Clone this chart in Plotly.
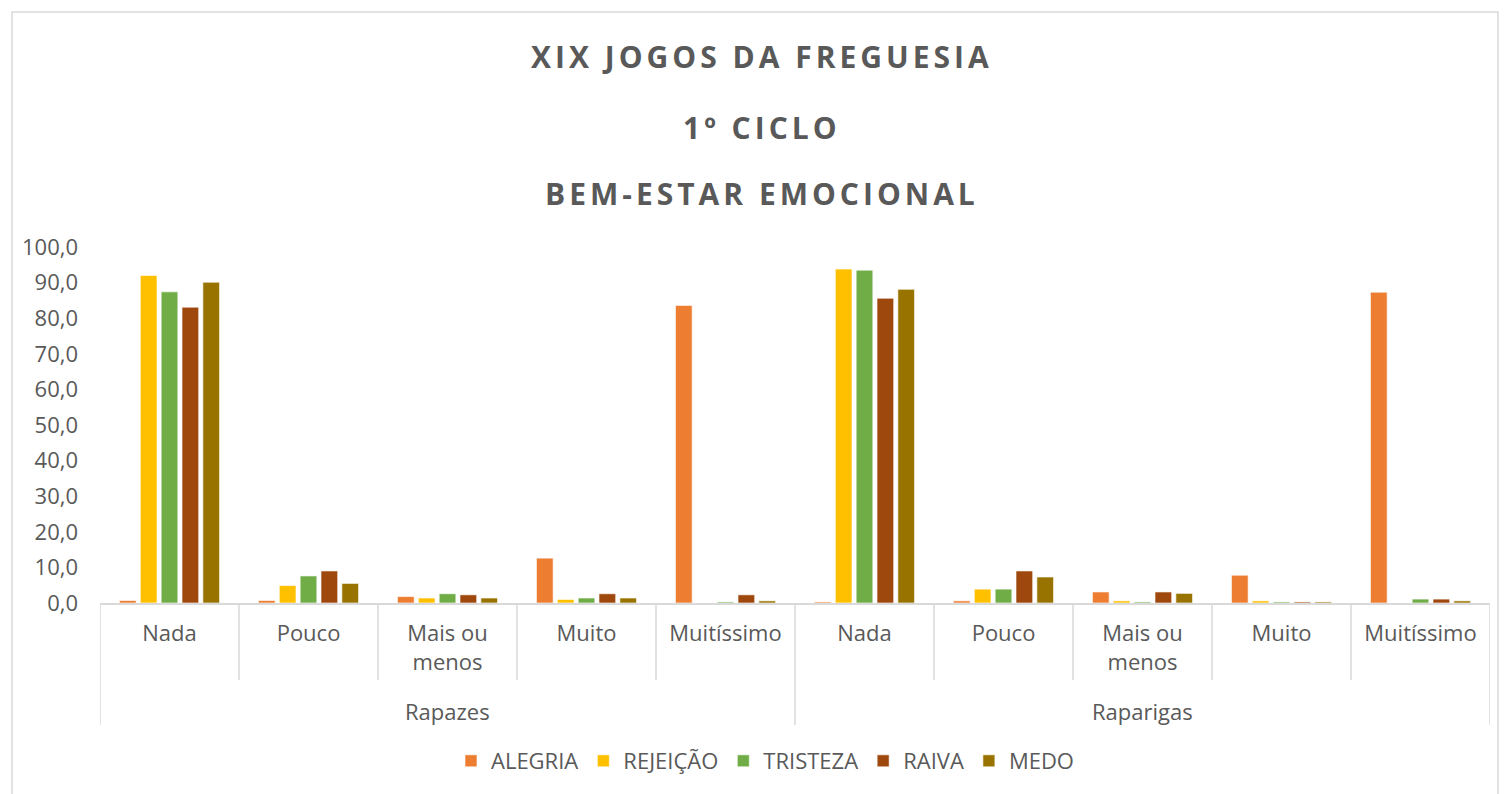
import plotly.graph_objects as go

groups = ["Rapazes", "Raparigas"]
categories = ["Nada", "Pouco", "Mais ou<br>menos", "Muito", "Muitíssimo"]
series_names = ["ALEGRIA", "REJEIÇÃO", "TRISTEZA", "RAIVA", "MEDO"]
colors = ["#ED7D31", "#FFC000", "#70AD47", "#9E480E", "#997300"]

alegria = [0.7, 0.7, 1.8, 12.6, 83.6, 0.3, 0.6, 3.1, 7.8, 87.3]
rejeicao = [92.0, 4.9, 1.4, 1.0, 0.0, 93.8, 3.9, 0.6, 0.6, 0.0]
tristeza = [87.4, 7.6, 2.6, 1.4, 0.3, 93.5, 3.9, 0.3, 0.3, 1.1]
raiva = [83.1, 9.0, 2.3, 2.6, 2.3, 85.6, 9.0, 3.1, 0.3, 1.1]
medo = [90.1, 5.5, 1.4, 1.4, 0.6, 88.1, 7.3, 2.7, 0.3, 0.6]

y_ticks = [0, 10, 20, 30, 40, 50, 60, 70, 80, 90, 100]
y_ticktext = ["0,0", "10,0", "20,0", "30,0", "40,0", "50,0", "60,0", "70,0", "80,0", "90,0", "100,0"]

title_lines = ["XIX JOGOS DA FREGUESIA", "1º CICLO", "BEM-ESTAR EMOCIONAL"]

# category positions built from the two-level categories
inner = [c for _ in groups for c in categories]
idx = list(range(len(inner)))
n_cat = len(categories)

FONT = "Open Sans"
GREY = "#595959"
LINE = "#D9D9D9"

fig = go.Figure()
for name, vals, col in zip(series_names, [alegria, rejeicao, tristeza, raiva, medo], colors):
    fig.add_trace(go.Bar(
        x=idx, y=vals, name=name,
        marker=dict(color=col, line=dict(color="rgba(255,255,255,0.6)", width=1)),
    ))

W, H = 1511, 794
PL, PR, PT, PB = 100, 1490, 247, 603  # plot area in page pixels
L, T, R, B = PL, PT, W - PR, H - PB
ph = PB - PT
pw = PR - PL

def py(pix):
    return (PB - pix) / ph

def px(pix):
    return (pix - PL) / pw

annotations = []
for txt, yp in zip(title_lines, [57, 127, 193]):
    annotations.append(dict(
        text="<b>" + txt + "</b>", xref="paper", yref="paper",
        x=px(762), y=py(yp), xanchor="center", yanchor="middle",
        showarrow=False, font=dict(family=FONT, size=30, color=GREY),
    ))
for gi, g in enumerate(groups):
    annotations.append(dict(
        text=g, xref="x", yref="paper",
        x=gi * n_cat + (n_cat - 1) / 2, y=py(711), xanchor="center", yanchor="middle",
        showarrow=False, font=dict(family=FONT, size=22, color=GREY),
    ))

shapes = [dict(type="rect", xref="paper", yref="paper",
               x0=px(12), x1=px(1498), y0=py(830), y1=py(12),
               line=dict(color=LINE, width=1.5), layer="below")]
for i in range(len(inner) + 1):
    is_group_edge = (i % n_cat == 0)
    shapes.append(dict(type="line", xref="x", yref="paper",
                       x0=i - 0.5, x1=i - 0.5, y0=0, y1=py(725 if is_group_edge else 680),
                       line=dict(color=LINE, width=1.5)))

fig.update_layout(
    width=W, height=H,
    margin=dict(l=L, r=R, t=T, b=B),
    paper_bgcolor="white", plot_bgcolor="white",
    barmode="group", bargap=0.25, bargroupgap=0.2,
    font=dict(family=FONT, size=22, color=GREY),
    showlegend=True,
    legend=dict(orientation="h", x=px(765), xanchor="center",
                y=py(761), yanchor="middle",
                font=dict(family=FONT, size=22, color=GREY),
                itemwidth=30, tracegroupgap=0),
    annotations=annotations,
    shapes=shapes,
    xaxis=dict(
        range=[-0.5, len(inner) - 0.5],
        tickvals=idx, ticktext=inner,
        showline=True, linecolor=LINE, linewidth=1.5,
        ticks="", ticklabelstandoff=10,
        tickfont=dict(family=FONT, size=22, color=GREY),
        showgrid=False, zeroline=False,
    ),
    yaxis=dict(
        range=[0, 100], tickvals=y_ticks, ticktext=y_ticktext,
        showgrid=False, zeroline=False, showline=False,
        ticks="", ticklabelstandoff=21,
        tickfont=dict(family=FONT, size=22, color=GREY),
    ),
)

post = """
document.documentElement.style.margin = '0';
document.documentElement.style.overflow = 'hidden';
document.body.style.margin = '0';
document.body.style.overflow = 'hidden';
document.querySelectorAll('.annotation-text').forEach(function(e){
  var t = e.textContent;
  if (t.indexOf('JOGOS') >= 0 || t.indexOf('CICLO') >= 0 || t.indexOf('EMOCIONAL') >= 0) {
    e.style.letterSpacing = '4px';
  }
});
"""

fig.write_html("out.html", post_script=post, config={"displayModeBar": False})
